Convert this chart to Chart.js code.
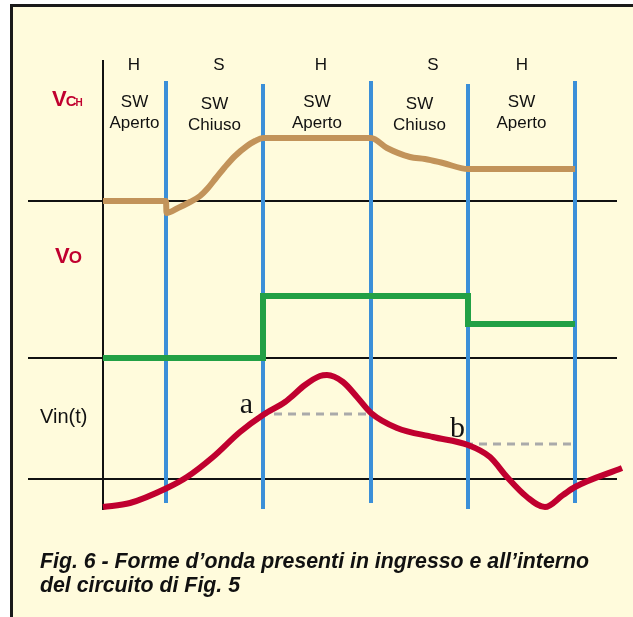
<!DOCTYPE html>
<html>
<head>
<meta charset="utf-8">
<script src="https://cdn.jsdelivr.net/npm/chart.js@4"></script>
<style>
  html, body { margin: 0; padding: 0; background: #fff; }
  #page { position: relative; width: 633px; height: 617px; overflow: hidden; }
  #frame {
    position: absolute; left: 10px; top: 4px; right: 0; bottom: 0;
    background: #fffbdc; border-top: 3px solid #1a1a1a; border-left: 3px solid #1a1a1a;
  }
  #wave { position: absolute; left: 0; top: 0; }
  #caption {
    position: absolute; left: 40px; top: 549px;
    font: italic bold 21.3px "Liberation Sans", Arial, sans-serif;
    line-height: 24px; color: #111;
  }
</style>
</head>
<body>
<div id="page">
  <div id="frame"></div>
  <canvas id="wave" width="633" height="617"></canvas>
  <div id="caption">Fig. 6 - Forme d’onda presenti in ingresso e all’interno<br>del circuito di Fig. 5</div>
</div>
<script>
// switching instants (blue lines), arbitrary time units
const switchTimes = [6.3, 16.0, 26.8, 36.5, 47.2]
const phaseStates = ['H', 'S', 'H', 'S', 'H']
const switchStates = ['Aperto', 'Chiuso', 'Aperto', 'Chiuso', 'Aperto']
const stateLabelTimes = [3.1, 11.6, 21.8, 33.0, 41.9]

// VCH - hold capacitor voltage
const vchTime = [0, 6.3, 6.35, 7.5, 8.7, 9.7, 10.5, 11.3, 12.2, 13.2, 14.4, 15.2, 16.0, 26.8, 28.4, 30.7, 32.2, 34.0, 36.5, 47.2]
const vchValue = [0, 0, -1.2, -0.7, -0.1, 0.5, 1.3, 2.3, 3.4, 4.5, 5.5, 6.0, 6.3, 6.3, 5.3, 4.4, 4.2, 3.8, 3.2, 3.2]

// VO - output
const voTime = [0, 16.0, 16.0, 36.5, 36.5, 47.2]
const voValue = [0, 0, 6.2, 6.2, 3.4, 3.4]

// Vin(t) - input signal
const vinTime = [0, 2.7, 6.4, 8.4, 11.0, 13.7, 16.0, 18.2, 18.7, 20.2, 21.7, 22.4, 24.0, 25.4, 26.8, 29.4, 33.0, 36.5, 38.7, 40.4, 42.4, 44.2, 46.0, 47.2, 51.9]
const vinValue = [-2.8, -2.4, -0.9, 0.2, 2.2, 4.7, 6.4, 7.7, 8.1, 9.4, 10.3, 10.4, 9.7, 8.2, 6.6, 5.1, 4.2, 3.4, 2.2, 0.2, -1.8, -2.8, -1.6, -0.8, 1.1]

// sampled values held (dashed)
const holdStart = [16.0, 36.5]
const holdEnd = [26.8, 47.2]
const holdValue = [6.5, 3.5]
const holdLabels = ['a', 'b']

const toPoints = (ts, vs) => ts.map((t, i) => ({ x: t, y: vs[i] }))

const BROWN = '#c2935a'
const GREEN = '#22a045'
const RED = '#c0002f'
const BLUE = '#3b8fd8'
const SANS = '"Liberation Sans", Arial, sans-serif'

const traceStyle = { borderWidth: 6, pointRadius: 0, fill: false, order: 1 }

const datasets = [
    { ...traceStyle, label: 'Vin(t)', data: toPoints(vinTime, vinValue), yAxisID: 'yVin',
      borderColor: RED, cubicInterpolationMode: 'monotone' },
    { ...traceStyle, label: 'VCH', data: toPoints(vchTime, vchValue), yAxisID: 'yVch',
      borderColor: BROWN, cubicInterpolationMode: 'monotone' },
    { ...traceStyle, label: 'VO', data: toPoints(voTime, voValue), yAxisID: 'yVo',
      borderColor: GREEN, tension: 0, borderJoinStyle: 'miter' },
    ...holdStart.map((t, i) => ({
        label: 'hold ' + holdLabels[i],
        data: [{ x: t, y: holdValue[i] }, { x: holdEnd[i], y: holdValue[i] }],
        yAxisID: 'yVin', borderColor: '#aaaaaa', borderWidth: 3, borderDash: [8, 6],
        borderDashOffset: 3, pointRadius: 0, tension: 0, order: 2
    }))
]

const line = (ctx, x1, y1, x2, y2) => {
    ctx.beginPath(); ctx.moveTo(x1, y1); ctx.lineTo(x2, y2); ctx.stroke()
}

const sketch = {
    id: 'sketch',
    beforeDatasetsDraw(chart) {
        const { ctx, scales: { x, yVch, yVo, yVin } } = chart
        ctx.save()
        ctx.strokeStyle = '#111'
        ctx.lineWidth = 2
        ;[yVch, yVo, yVin].forEach(s => {
            const py = s.getPixelForValue(0)
            line(ctx, x.getPixelForValue(-7.5), py, x.getPixelForValue(51.4), py)
        })
        const x0 = x.getPixelForValue(0)
        line(ctx, x0, 60, x0, 510)

        ctx.strokeStyle = BLUE
        ctx.lineWidth = 4
        switchTimes.forEach((t, i) => {
            const px = x.getPixelForValue(t)
            if (i % 2) line(ctx, px, 84, px, 509)
            else line(ctx, px, 81, px, 503)
        })
        ctx.restore()
    },
    afterDatasetsDraw(chart) {
        const { ctx, scales: { x, yVin } } = chart
        ctx.save()
        ctx.fillStyle = '#111'
        ctx.textAlign = 'center'
        ctx.textBaseline = 'middle'
        ctx.font = '17px ' + SANS
        phaseStates.forEach((s, i) => ctx.fillText(s, x.getPixelForValue(stateLabelTimes[i]), 65))

        ctx.textBaseline = 'alphabetic'
        switchStates.forEach((s, i) => {
            const mid = x.getPixelForValue(((i ? switchTimes[i - 1] : 0) + switchTimes[i]) / 2)
            const dy = s === 'Chiuso' ? 2 : 0
            ctx.fillText('SW', mid, 107 + dy)
            ctx.fillText(s, mid, 128 + dy)
        })

        // signal names
        ctx.textAlign = 'left'
        ctx.fillStyle = RED
        const sub = (parts, px, py) => {
            parts.forEach(([txt, size]) => {
                ctx.font = 'bold ' + size + 'px ' + SANS
                ctx.fillText(txt, px, py)
                px += ctx.measureText(txt).width - 1
            })
        }
        sub([['V', 22], ['C', 15], ['H', 10]], 52, 106)
        sub([['V', 22], ['O', 17]], 55, 263)

        ctx.fillStyle = '#111'
        ctx.font = '20px ' + SANS
        ctx.fillText('Vin(t)', 40, 423)

        // sample labels, just left of the sampling instant
        ctx.font = '30px "Liberation Serif", "Times New Roman", serif'
        ctx.textAlign = 'right'
        const labelDx = [-10, -3]
        const labelDy = [-1, -7]
        holdLabels.forEach((l, i) => {
            ctx.fillText(l, x.getPixelForValue(holdStart[i]) + labelDx[i], yVin.getPixelForValue(holdValue[i]) + labelDy[i])
        })
        ctx.restore()
    }
}

new Chart(document.getElementById('wave'), {
    type: 'line',
    data: { datasets },
    options: {
        responsive: false,
        animation: false,
        events: [],
        layout: { padding: 0 },
        plugins: { legend: { display: false }, tooltip: { enabled: false } },
        scales: {
            x: { type: 'linear', min: -10.3, max: 53.0, display: false },
            yVch: { type: 'linear', min: -41.6, max: 20.1, display: false },
            yVo: { type: 'linear', min: -25.9, max: 35.8, display: false },
            yVin: { type: 'linear', min: -13.8, max: 47.9, display: false }
        }
    },
    plugins: [sketch]
})
</script>
</body>
</html>
